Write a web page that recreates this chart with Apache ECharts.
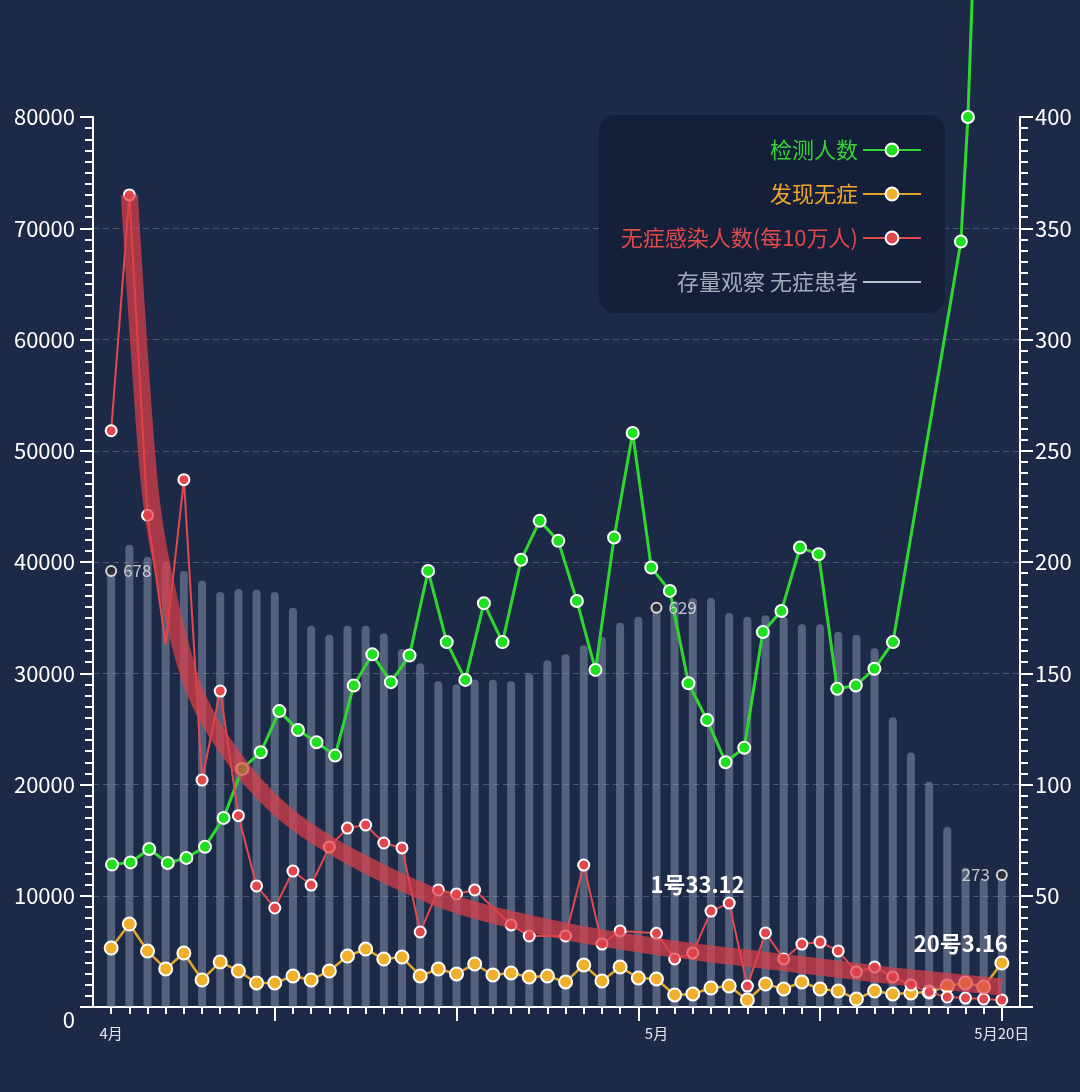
<!DOCTYPE html>
<html><head><meta charset="utf-8">
<script src="https://cdn.jsdelivr.net/npm/echarts@6/dist/echarts.min.js"></script>
<style>html,body{margin:0;padding:0;background:#1c2a48;}#c{width:1080px;height:1092px;}</style>
</head><body><div id="c"></div>
<script>
// ---- data ----
const tickDays = [0, 30, 49];
const tickText = ['4月', '5月', '5月20日'];
const majorTickDays = [9, 19, 29, 39, 49];
// 检测人数 (left axis), one value per day from 4月1日
const tested = [12800, 13000, 14200, 12950, 13400, 14400, 17000, 21400, 22900, 26600,
  24900, 23800, 22600, 28900, 31700, 29200, 31600, 39200, 32800, 29400,
  36300, 32800, 40200, 43700, 41900, 36500, 30300, 42200, 51600, 39500,
  37400, 29100, 25800, 22000, 23300, 33700, 35600, 41300, 40700, 28600,
  28900, 30400, 32800];
const testedTailDay = [45.65, 46.03, 46.29];
const testedTailVal = [68800, 80000, 92300];
// 发现无症 (left axis)
const found = [5300, 7460, 5030, 3420, 4850, 2430, 4050, 3240, 2160, 2160,
  2790, 2430, 3240, 4580, 5210, 4310, 4490, 2790, 3420, 2970,
  3870, 2880, 3060, 2700, 2790, 2250, 3780, 2340, 3600, 2610,
  2520, 1080, 1170, 1710, 1890, 630, 2070, 1620, 2250, 1620,
  1440, 720, 1440, 1170, 1260, 1350, 1890, 2160, 1800, 3960];
// 无症感染人数(每10万人) (right axis)
const rate = [259, 365, 221, 163, 237, 102, 142, 86, 54.4, 44.5,
  61.1, 54.8, 71.9, 80.4, 81.8, 73.7, 71.5, 33.7, 52.6, 50.8,
  52.6, null, 36.9, 31.9, null, 31.9, 63.8, 28.3, 34.2, null,
  33.12, 21.6, 24.3, 43.1, 46.7, 9.4, 33.3, 21.6, 28.3, 29.2,
  25.2, 15.7, 18.0, 13.5, 9.9, 6.7, 4.5, 4.0, 3.6, 3.16];
const rateHiddenMarkDays = [3];
const rateNoteDays = [30, 49];
const rateNoteDate = ['1号', '20号'];
// 存量观察 无症患者 (hidden axis)
const stock = [678, 713, 697, 690, 678, 665, 650, 654, 653, 650,
  629, 605, 593, 605, 605, 595, 574, 555, 531, 527,
  533, 533, 531, 542, 559, 567, 579, 590, 609, 617,
  629, 638, 642, 642, 622, 617, 619, 617, 607, 607,
  597, 593, 575, 483, 436, 397, 337, 283, 268, 273];
const stockNoteDays = [0, 30, 49];
// trend band (right axis)
const trendDay = [1, 1.5, 2.2, 3.2, 4.7, 7.2, 10, 14, 19, 25, 31, 37, 43, 49];
const trendVal = [365, 300, 228, 183, 140, 107, 84, 64, 46, 34, 26, 20, 14, 9];

// ---- chart ----
const FONT = 'Noto Sans CJK SC';
const allDays = [];
for (let i = 0; i < stock.length; i++) allDays.push(i);
const tickMap = {};
tickDays.forEach((d, i) => tickMap[d] = tickText[i]);

const chart = echarts.init(document.getElementById('c'), null, {renderer: 'canvas'});
const white = '#ffffff';
const option = {
  backgroundColor: '#1c2a48',
  textStyle: {fontFamily: FONT},
  animation: false,
  grid: {left: 93, right: 60, top: 117, bottom: 85, containLabel: false},
  legend: {
    orient: 'vertical', right: 135, top: 115, align: 'right',
    itemWidth: 58, itemHeight: 16, itemGap: 22,
    backgroundColor: '#141f39', borderRadius: 16,
    padding: [24, 23, 20, 22],
    textStyle: {fontSize: 22, fontFamily: FONT},
    data: [
      {name: '检测人数', textStyle: {color: '#35d435'}},
      {name: '发现无症', textStyle: {color: '#f0a52a'}},
      {name: '无症感染人数(每10万人)', textStyle: {color: '#e2494b'}},
      {name: '存量观察 无症患者', textStyle: {color: '#a2aabb'}, icon: 'path://M0,0h58v2h-58z', itemStyle: {color: '#b8c0d0'}}
    ]
  },
  xAxis: [
    {type: 'value', min: -1, max: 50, interval: 1, position: 'bottom',
      axisLine: {show: true, onZero: false, lineStyle: {color: white, width: 2}},
      axisTick: {show: true, length: 7, customValues: allDays, lineStyle: {color: white, width: 2}},
      axisLabel: {show: true, customValues: tickDays, formatter: v => tickMap[v] || '', color: '#e2e8f0', fontSize: 15, margin: 19},
      splitLine: {show: false}},
    {type: 'value', min: -1, max: 50, interval: 10, position: 'bottom',
      axisLine: {show: false, onZero: false},
      axisTick: {show: true, length: 14, customValues: majorTickDays, lineStyle: {color: white, width: 2}},
      axisLabel: {show: false}, splitLine: {show: false}},
    {type: 'value', min: -1.022, max: 48.83, show: false}
  ],
  yAxis: [
    {type: 'value', min: 0, max: 80000, interval: 10000, position: 'left',
      axisLine: {show: true, onZero: false, lineStyle: {color: white, width: 2}},
      axisTick: {show: true, length: 13, lineStyle: {color: white, width: 2}},
      minorTick: {show: true, splitNumber: 10, length: 8, lineStyle: {color: white, width: 2}},
      axisLabel: {color: white, fontSize: 22, margin: 18,
        formatter: v => v === 0 ? '{z|0}' : String(v),
        rich: {z: {fontSize: 22, color: white, padding: [26, 0, 0, 0]}}},
      splitLine: {show: true, showMinLine: false, showMaxLine: false, lineStyle: {type: [6, 4], color: 'rgba(255,255,255,0.22)', width: 1}}},
    {type: 'value', min: 0, max: 400, interval: 50, position: 'right',
      axisLine: {show: true, onZero: false, lineStyle: {color: white, width: 2}},
      axisTick: {show: true, length: 13, lineStyle: {color: white, width: 2}},
      minorTick: {show: true, splitNumber: 10, length: 8, lineStyle: {color: white, width: 2}},
      axisLabel: {color: white, fontSize: 22, margin: 15, showMinLabel: false},
      splitLine: {show: false}},
    {type: 'value', min: 97, max: 1283, show: false}
  ],
  series: [
    {name: '存量观察 无症患者', type: 'bar', xAxisIndex: 0, yAxisIndex: 2,
      data: stock.map((v, i) => [i, v]), barWidth: 8, z: 1,
      itemStyle: {color: 'rgba(155,167,192,0.45)', borderRadius: [4, 4, 0, 0]}},
    {name: '检测人数', type: 'line', xAxisIndex: 2, yAxisIndex: 0, clip: false, z: 3,
      data: tested.map((v, i) => [i, v]).concat(testedTailDay.map((d, i) => [d, testedTailVal[i]])),
      symbol: 'circle', symbolSize: 12,
      lineStyle: {color: '#2fd82f', width: 3},
      itemStyle: {color: '#1fe01f', borderColor: white, borderWidth: 2}},
    {name: '发现无症', type: 'line', xAxisIndex: 0, yAxisIndex: 0, z: 3,
      data: found.map((v, i) => [i, v]),
      symbol: 'circle', symbolSize: 13,
      lineStyle: {color: '#e2a62a', width: 2.5},
      itemStyle: {color: '#f0b02c', borderColor: white, borderWidth: 2}},
    {name: '无症感染人数(每10万人)', type: 'line', xAxisIndex: 0, yAxisIndex: 1, z: 4,
      connectNulls: true,
      data: rate.map((v, i) => {
        const k = rateNoteDays.indexOf(i);
        const item = {value: [i, v]};
        if (rateHiddenMarkDays.indexOf(i) >= 0) item.symbol = 'none';
        if (k >= 0) {
          item.label = {show: true, position: 'top', formatter: rateNoteDate[k] + v,
            color: white, fontSize: 22, fontWeight: 'bold', fontFamily: FONT,
            offset: k === 0 ? [41, -26] : [-41, -34]};
        }
        return item;
      }),
      symbol: 'circle', symbolSize: 11,
      lineStyle: {color: '#e24a4c', width: 2},
      itemStyle: {color: '#e2474d', borderColor: white, borderWidth: 2}},
    {name: 'trend', type: 'line', xAxisIndex: 0, yAxisIndex: 1, z: 6, silent: true,
      data: trendDay.map((d, i) => [d, trendVal[i]]),
      smooth: 0.3, symbol: 'none',
      lineStyle: {color: 'rgba(220,62,72,0.72)', width: 17, cap: 'butt'}},
    {name: 'notes', type: 'scatter', xAxisIndex: 0, yAxisIndex: 2, z: 5,
      data: stockNoteDays.map((d, i) => ({value: [d, stock[d]],
        label: {position: i === stockNoteDays.length - 1 ? 'left' : 'right'}})),
      symbol: 'circle', symbolSize: 10,
      itemStyle: {color: '#2a2a2a', borderColor: white, borderWidth: 2},
      label: {show: true, formatter: p => String(p.value[1]), color: '#e6e6e6', fontSize: 17, distance: 6}}
  ]
};
chart.setOption(option);
</script></body></html>
